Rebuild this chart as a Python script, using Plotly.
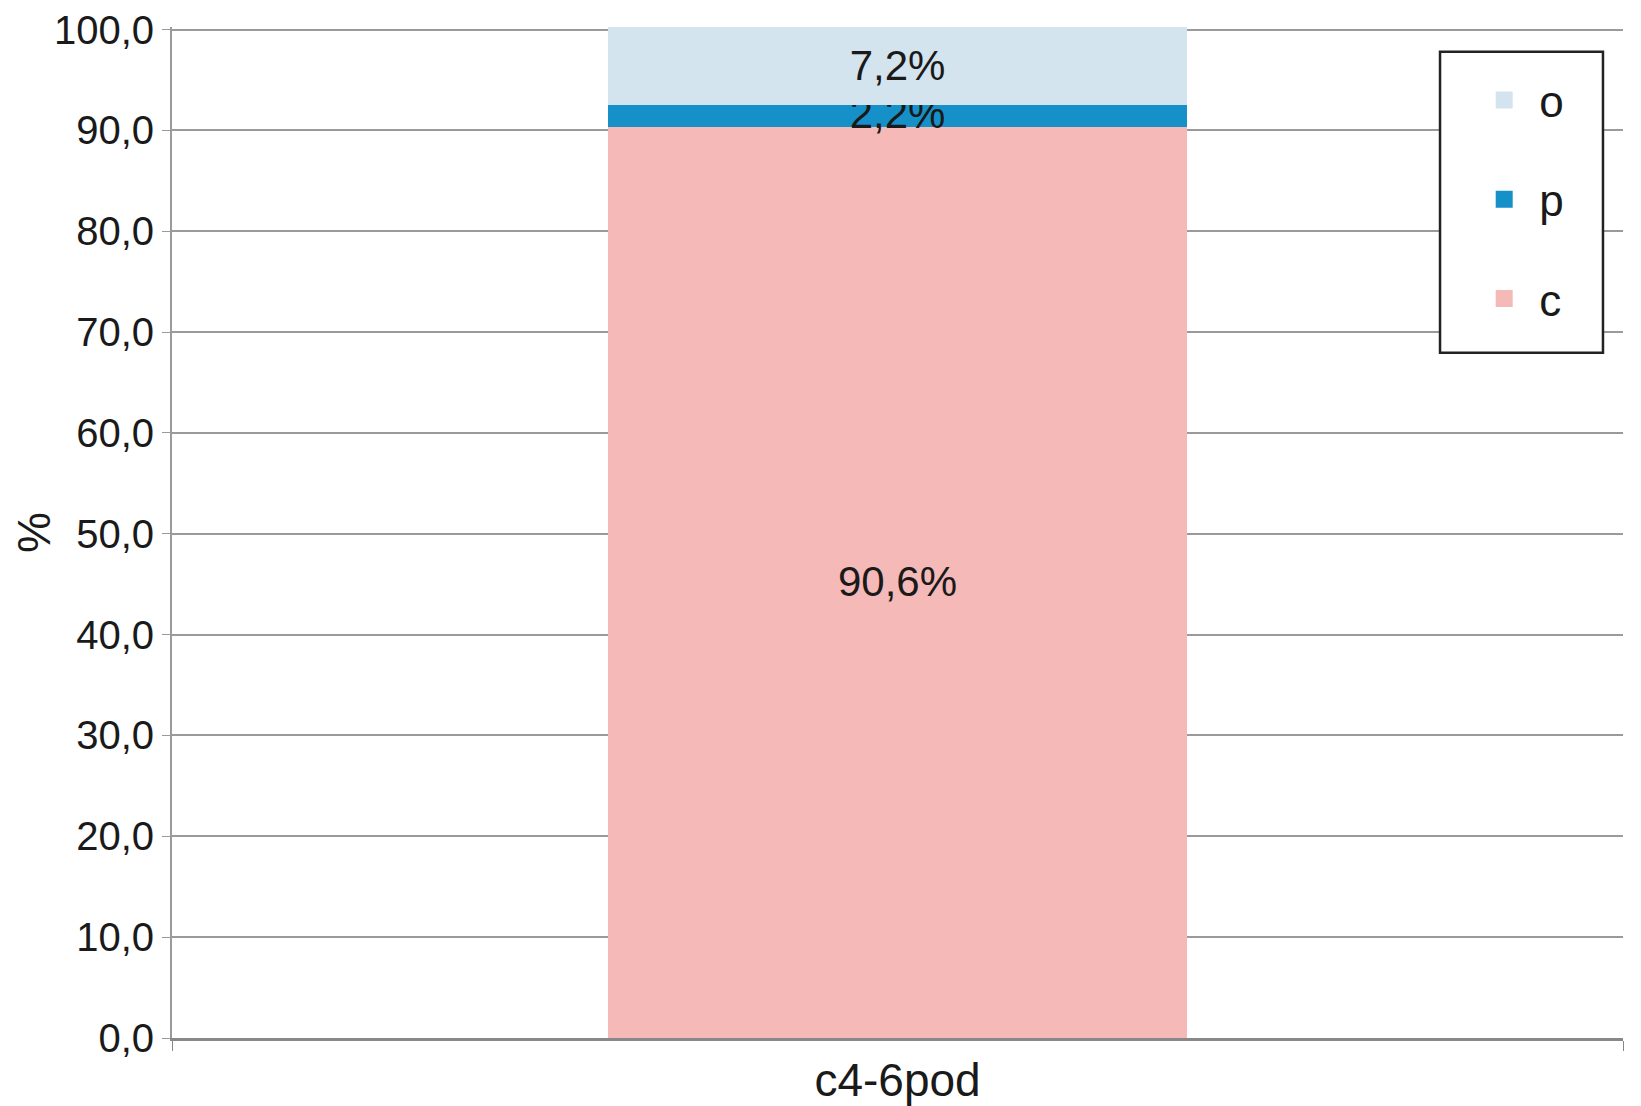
import plotly.graph_objects as go

categories = ["c4-6pod"]
series_names = ["c", "p", "o"]
series_values = {"c": [90.6], "p": [2.2], "o": [7.2]}
series_colors = {"c": "#f5b9b8", "p": "#1690c9", "o": "#d3e4ef"}
legend_rank = {"o": 1, "p": 2, "c": 3}
y_ticks = [0, 10, 20, 30, 40, 50, 60, 70, 80, 90, 100]

FONT = "Liberation Sans, Arial, sans-serif"

fig = go.Figure()
for name in series_names:
    fig.add_trace(go.Bar(
        x=categories, y=series_values[name], name=name,
        marker=dict(color=series_colors[name],
                    line=dict(width=6, color=series_colors[name])),
        width=0.395,
        texttemplate="%{y:.1f}%", textposition="inside",
        insidetextanchor="middle", constraintext="none",
        textfont=dict(family=FONT, size=42, color="#1a1a1a"),
        legendgroup=name, legendrank=legend_rank[name], showlegend=True,
    ))

# legend frame (white box with dark border), legend entries drawn on top by plotly
fig.add_shape(type="rect", xref="paper", yref="paper",
              x0=0.8739, x1=0.9862, y0=0.6779, y1=0.9754,
              fillcolor="white", line=dict(color="#222", width=2.5), layer="above")

# page has an 8px body margin, so the figure is sized/offset to compensate
fig.update_layout(
    barmode="stack",
    width=1625, height=1098,
    margin=dict(l=164, r=10, t=19, b=68),
    paper_bgcolor="white", plot_bgcolor="white",
    separators=", ",
    font=dict(family=FONT, size=40, color="#1a1a1a"),
    showlegend=True,
    legend=dict(
        x=0.894, y=0.9625, xanchor="left", yanchor="top",
        bgcolor="rgba(0,0,0,0)", borderwidth=0,
        traceorder="grouped", tracegroupgap=39,
        font=dict(family=FONT, size=44, color="#1a1a1a"),
        itemwidth=60,
    ),
    xaxis=dict(
        range=[-0.5, 0.5], showgrid=False, automargin=False,
        showline=True, linecolor="#888", linewidth=3,
        ticks="outside", tickson="boundaries", ticklen=10, tickcolor="#888",
        tickfont=dict(family=FONT, size=46, color="#1a1a1a"),
        ticklabeloverflow="allow",
    ),
    yaxis=dict(
        range=[0, 100.25], tickvals=y_ticks, tickformat=".1f", automargin=False,
        showgrid=True, gridcolor="#9a9a9a", gridwidth=2,
        showline=True, linecolor="#9a9a9a", linewidth=2,
        ticks="outside", ticklen=8, tickcolor="#9a9a9a",
        tickfont=dict(family=FONT, size=40, color="#1a1a1a"),
        ticklabeloverflow="allow",
        title=dict(text="%", font=dict(family=FONT, size=46, color="#1a1a1a"), standoff=14),
        zeroline=False,
    ),
)

fig.write_html("out.html")
